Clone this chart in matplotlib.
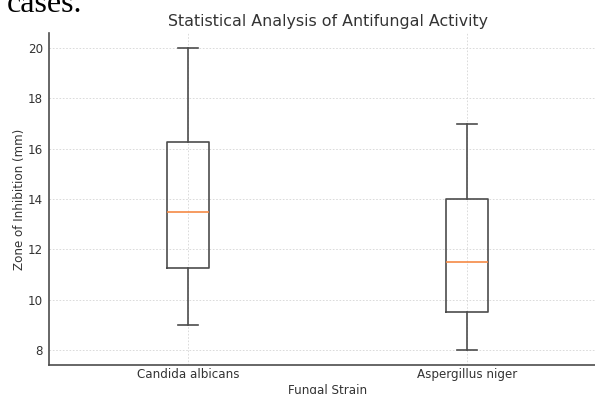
import matplotlib
matplotlib.use("Agg")
import matplotlib.pyplot as plt

# Box statistics
strains = ["Candida albicans", "Aspergillus niger"]
whisker_low = [9.0, 8.0]
q1 = [11.25, 9.5]
median = [13.5, 11.5]
q3 = [16.25, 14.0]
whisker_high = [20.0, 17.0]
yticks = [8, 10, 12, 14, 16, 18, 20]

W, H = 595, 394
fig = plt.figure(figsize=(W / 100, H / 100), dpi=100)
ax = fig.add_axes([48.5 / W, 1 - 365 / H, 558 / W, (365 - 33) / H])

stats = [
    dict(label=s, whislo=lo, q1=a, med=m, q3=b, whishi=hi, fliers=[])
    for s, lo, a, m, b, hi in zip(strains, whisker_low, q1, median, q3, whisker_high)
]
line_col = "#4d4d4d"
ax.bxp(
    stats,
    positions=[1, 2],
    widths=0.15,
    boxprops=dict(color=line_col, linewidth=1.2),
    whiskerprops=dict(color=line_col, linewidth=1.2),
    capprops=dict(color=line_col, linewidth=1.2),
    medianprops=dict(color="#f58a45", linewidth=1.2),
)

ax.set_xlim(0.5, 2.5)
ax.set_ylim(7.4, 20.6)
ax.set_yticks(yticks)

for side in ("top", "right"):
    ax.spines[side].set_visible(False)
for side in ("left", "bottom"):
    ax.spines[side].set_color(line_col)
    ax.spines[side].set_linewidth(1.2)

ax.tick_params(length=0, labelsize=8.6, labelcolor="#333333")
ax.tick_params(axis="y", pad=4)
ax.tick_params(axis="x", pad=2)
ax.grid(True, linestyle=(0, (2, 2)), linewidth=0.6, color="#d5d5d5")
ax.set_axisbelow(True)

ax.set_title("Statistical Analysis of Antifungal Activity", fontsize=11.4,
             color="#333333", pad=5)
ax.set_ylabel("Zone of Inhibition (mm)", fontsize=8.6, color="#333333", labelpad=1)
ax.set_xlabel("Fungal Strain", fontsize=8.6, color="#333333", labelpad=2)

# fragment of surrounding document text, cut off at the top
fig.text(7 / W, 1 - 12 / H, "cases.", family="Liberation Serif", fontsize=23,
         color="black", va="baseline", ha="left")

fig.savefig("out.png", dpi=100)
